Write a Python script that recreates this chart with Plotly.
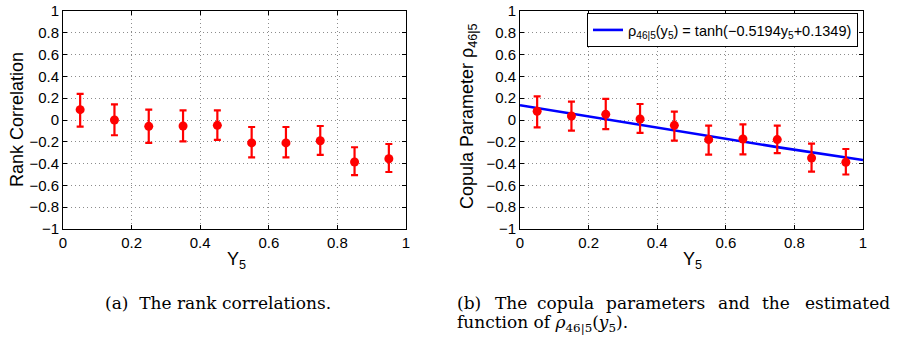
import plotly.graph_objects as go
from plotly.subplots import make_subplots

# ---------------- data ----------------
y5_bins = [0.05, 0.15, 0.25, 0.35, 0.45, 0.55, 0.65, 0.75, 0.85, 0.95]

rank_corr = [0.095, 0.0, -0.058, -0.055, -0.049, -0.21, -0.21, -0.19, -0.385, -0.355]
rank_upper = [0.24, 0.144, 0.095, 0.089, 0.089, -0.064, -0.064, -0.055, -0.25, -0.22]
rank_lower = [-0.06, -0.14, -0.21, -0.196, -0.183, -0.343, -0.343, -0.32, -0.505, -0.477]

copula_param = [0.08, 0.037, 0.052, 0.009, -0.049, -0.18, -0.174, -0.18, -0.349, -0.388]
copula_upper = [0.217, 0.168, 0.193, 0.147, 0.076, -0.052, -0.04, -0.052, -0.217, -0.266]
copula_lower = [-0.067, -0.098, -0.083, -0.119, -0.19, -0.318, -0.315, -0.303, -0.474, -0.50]

fit_x = [0.0, 0.25, 0.5, 0.75, 1.0]
fit_y = [0.135, 0.005, -0.125, -0.249, -0.367]

tick_vals_x = [0, 0.2, 0.4, 0.6, 0.8, 1]
tick_vals_y = [-1, -0.8, -0.6, -0.4, -0.2, 0, 0.2, 0.4, 0.6, 0.8, 1]

legend_label = "ρ<sub>46|5</sub>(y<sub>5</sub>) = tanh(−0.5194y<sub>5</sub>+0.1349)"

caption_a = "(a)  The rank correlations."
caption_b_words = ["(b)", "The", "copula", "parameters", "and", "the", "estimated"]
caption_b_line2 = "function of <i>ρ</i><sub>46|5</sub>(<i>y</i><sub>5</sub>)."

# ---------------- figure ----------------
W, H = 904, 345
fig = make_subplots(rows=1, cols=2)

RED = "#ff0000"
BLUE = "#0000ff"


def err(vals, up, lo):
    return ([u - v for u, v in zip(up, vals)], [v - l for v, l in zip(vals, lo)])


ep, em = err(rank_corr, rank_upper, rank_lower)
fig.add_trace(go.Scatter(
    x=y5_bins, y=rank_corr, mode="markers",
    marker=dict(color=RED, size=9),
    error_y=dict(type="data", array=ep, arrayminus=em, color=RED,
                 thickness=2.2, width=3.5, symmetric=False),
    showlegend=False), row=1, col=1)

fig.add_trace(go.Scatter(
    x=fit_x, y=fit_y, mode="lines", line=dict(color=BLUE, width=2.6),
    name=legend_label, showlegend=True), row=1, col=2)

ep2, em2 = err(copula_param, copula_upper, copula_lower)
fig.add_trace(go.Scatter(
    x=y5_bins, y=copula_param, mode="markers",
    marker=dict(color=RED, size=9),
    error_y=dict(type="data", array=ep2, arrayminus=em2, color=RED,
                 thickness=2.2, width=3.5, symmetric=False),
    showlegend=False), row=1, col=2)

SANS = "Liberation Sans, Arial, sans-serif"
TICKFONT = dict(family=SANS, size=15, color="black")
axis_common = dict(
    showline=True, linecolor="black", linewidth=1, mirror="ticks",
    ticks="inside", ticklen=4, tickcolor="black",
    showgrid=True, gridcolor="#8c8c8c", griddash="1px,3px", gridwidth=1,
    zeroline=False, tickfont=TICKFONT, automargin=False,
)

ydom = [1 - 229 / H, 1 - 11 / H]
fig.update_xaxes(**axis_common, range=[0, 1], tickvals=tick_vals_x)
fig.update_yaxes(**axis_common, range=[-1, 1], tickvals=tick_vals_y)
fig.update_layout(
    xaxis=dict(domain=[63 / W, 406 / W]),
    xaxis2=dict(domain=[520 / W, 863 / W]),
    yaxis=dict(domain=ydom),
    yaxis2=dict(domain=ydom),
)

TITLEFONT = dict(family=SANS, size=18, color="black")
SERIF = dict(family="DejaVu Serif, Liberation Serif, serif", size=17, color="black")

ann = []
# axis titles
ann.append(dict(text="Rank Correlation", x=17 / W, y=1 - 120 / H, xref="paper", yref="paper",
                textangle=-90, showarrow=False, font=TITLEFONT, xanchor="center", yanchor="middle"))
ann.append(dict(text="Y<sub>5</sub>", x=236 / W, y=1 - 260 / H, xref="paper", yref="paper",
                showarrow=False, font=TITLEFONT, xanchor="center", yanchor="middle"))
ann.append(dict(text="Copula Parameter ρ<sub>46|5</sub>", x=468 / W, y=1 - 116 / H, xref="paper", yref="paper",
                textangle=-90, showarrow=False, font=TITLEFONT, xanchor="center", yanchor="middle"))
ann.append(dict(text="Y<sub>5</sub>", x=692 / W, y=1 - 260 / H, xref="paper", yref="paper",
                showarrow=False, font=TITLEFONT, xanchor="center", yanchor="middle"))
# captions
ann.append(dict(text=caption_a, x=103 / W, y=1 - 303 / H, xref="paper", yref="paper",
                showarrow=False, font=SERIF, xanchor="left", yanchor="middle"))
word_x = [455, 493, 535, 604, 716, 760, 803]
for wd, wx in zip(caption_b_words, word_x):
    ann.append(dict(text=wd, x=wx / W, y=1 - 303 / H, xref="paper", yref="paper",
                    showarrow=False, font=SERIF, xanchor="left", yanchor="middle"))
ann.append(dict(text=caption_b_line2, x=455 / W, y=1 - 323 / H,
                xref="paper", yref="paper", showarrow=False, font=SERIF, xanchor="left", yanchor="middle"))

fig.update_layout(
    width=W, height=H,
    margin=dict(l=0, r=0, t=0, b=0),
    paper_bgcolor="white", plot_bgcolor="white",
    annotations=ann,
    legend=dict(x=858 / W, y=1 - 13 / H, xanchor="right", yanchor="top",
                bgcolor="white", bordercolor="black", borderwidth=1,
                font=dict(family=SANS, size=14.5, color="black"),
                itemwidth=30, tracegroupgap=0),
    showlegend=True,
)

fig.write_html("out.html",
               config={"displayModeBar": False},
               post_script="document.body.style.margin='0';document.body.style.padding='0';")
